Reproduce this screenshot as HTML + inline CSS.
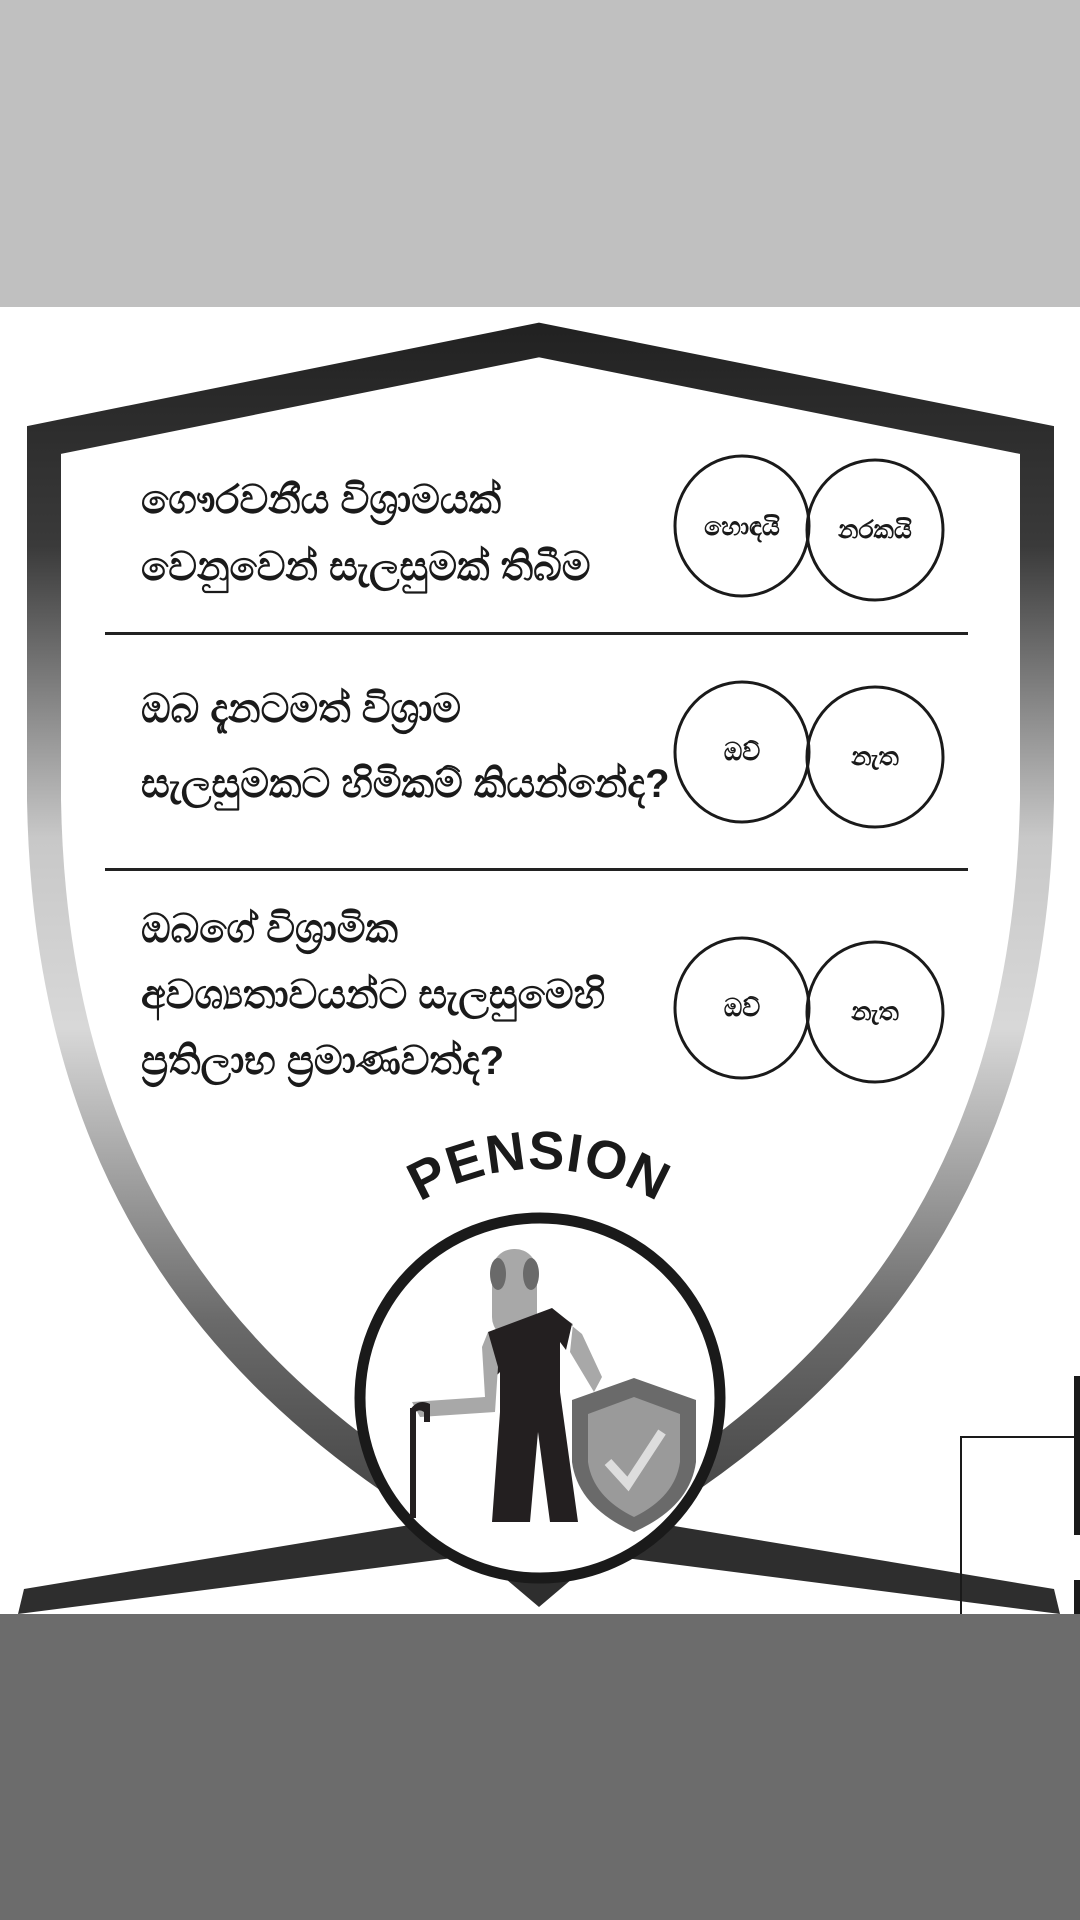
<!DOCTYPE html>
<html><head><meta charset="utf-8"><style>
html,body{margin:0;padding:0;background:#fff}
svg{display:block}
.q{font-family:"Liberation Sans","Noto Sans CJK SC",sans-serif;font-size:40px;font-weight:bold;fill:#1a1a1a}
.c{font-family:"Liberation Sans","Noto Sans CJK SC",sans-serif;font-size:25px;font-weight:bold;fill:#1a1a1a}
</style></head><body>
<svg width="1080" height="1920" viewBox="0 0 1080 1920" xmlns="http://www.w3.org/2000/svg">
<defs>
<linearGradient id="g" gradientUnits="userSpaceOnUse" x1="0" y1="330" x2="0" y2="1600">
<stop offset="0" stop-color="#222"/>
<stop offset="0.17" stop-color="#3a3a3a"/>
<stop offset="0.4" stop-color="#c8c8c8"/>
<stop offset="0.55" stop-color="#d8d8d8"/>
<stop offset="0.78" stop-color="#6a6a6a"/>
<stop offset="1" stop-color="#333"/>
</linearGradient>
<path id="arc" d="M 310,1398 A 229 229 0 0 1 768,1398"/>
</defs>
<rect x="0" y="0" width="1080" height="307" fill="#c0c0c0"/>
<polygon points="24,1589 428,1522 468,1556 18,1614" fill="#2e2e2e"/>
<polygon points="1054,1589 650,1522 610,1556 1060,1614" fill="#2e2e2e"/>
<polygon points="460,1540 539,1607 618,1540" fill="#2e2e2e"/>
<path d="M410,1490 C200,1350 50,1150 44,800 L44,440 L539,340 L1037,440 L1037,800 C1030,1150 880,1350 668,1490" fill="none" stroke="url(#g)" stroke-width="34" stroke-linejoin="miter"/>
<rect x="105" y="632" width="863" height="3" fill="#222"/>
<rect x="105" y="868" width="863" height="3" fill="#222"/>
<text class="q" x="141" y="513">ගෞරවනීය විශ්‍රාමයක්</text>
<text class="q" x="141" y="580">වෙනුවෙන් සැලසුමක් තිබීම</text>
<ellipse cx="742" cy="526" rx="67" ry="70" fill="none" stroke="#1a1a1a" stroke-width="3"/>
<ellipse cx="875" cy="530" rx="68" ry="70" fill="none" stroke="#1a1a1a" stroke-width="3"/>
<text class="c" x="742" y="535" text-anchor="middle">හොඳයි</text>
<text class="c" x="875" y="538" text-anchor="middle">නරකයි</text>
<text class="q" x="141" y="722">ඔබ දැනටමත් විශ්‍රාම</text>
<text class="q" x="141" y="797">සැලසුමකට හිමිකම් කියන්නේද?</text>
<ellipse cx="742" cy="752" rx="67" ry="70" fill="none" stroke="#1a1a1a" stroke-width="3"/>
<ellipse cx="875" cy="757" rx="68" ry="70" fill="none" stroke="#1a1a1a" stroke-width="3"/>
<text class="c" x="742" y="760" text-anchor="middle">ඔව්</text>
<text class="c" x="875" y="765" text-anchor="middle">නැත</text>
<text class="q" x="141" y="942">ඔබගේ විශ්‍රාමික</text>
<text class="q" x="141" y="1008">අවශ්‍යතාවයන්ට සැලසුමෙහි</text>
<text class="q" x="141" y="1074">ප්‍රතිලාභ ප්‍රමාණවත්ද?</text>
<ellipse cx="742" cy="1008" rx="67" ry="70" fill="none" stroke="#1a1a1a" stroke-width="3"/>
<ellipse cx="875" cy="1012" rx="68" ry="70" fill="none" stroke="#1a1a1a" stroke-width="3"/>
<text class="c" x="742" y="1016" text-anchor="middle">ඔව්</text>
<text class="c" x="875" y="1020" text-anchor="middle">නැත</text>
<text font-family="Liberation Sans, sans-serif" font-weight="bold" font-size="54" fill="#1a1a1a" letter-spacing="1"><textPath href="#arc" startOffset="50%" text-anchor="middle">PENSION</textPath></text>
<circle cx="540" cy="1398" r="180" fill="#fff" stroke="#1a1a1a" stroke-width="11"/>
<g transform="translate(0,12)">
<rect x="492" y="1237" width="45" height="90" rx="22" fill="#a8a8a8"/>
<ellipse cx="498" cy="1262" rx="8" ry="16" fill="#6a6a6a"/>
<ellipse cx="531" cy="1262" rx="8" ry="16" fill="#6a6a6a"/>
<path d="M555,1300 L573,1312 L570,1340 L594,1380 L602,1365 L582,1322 Z" fill="#a8a8a8"/>
<path d="M488,1320 L552,1296 L572,1312 L566,1338 L560,1330 L560,1380 L578,1510 L550,1510 L538,1420 L530,1510 L492,1510 L500,1400 L500,1360 L495,1365 Z" fill="#231f20"/>
<path d="M488,1320 L498,1355 L495,1400 L420,1405 L412,1390 L485,1385 L482,1335 Z" fill="#a8a8a8"/>
<rect x="410" y="1396" width="6" height="110" fill="#231f20"/>
<path d="M410,1398 Q418,1386 430,1392 L430,1410 L424,1410 L424,1400 Q418,1396 414,1402 Z" fill="#231f20"/>
<path d="M634,1366 L696,1388 L696,1450 Q690,1495 634,1520 Q578,1495 572,1450 L572,1388 Z" fill="#6a6a6a"/>
<path d="M634,1385 L680,1402 L680,1450 Q675,1485 634,1505 Q593,1485 588,1450 L588,1402 Z" fill="#9a9a9a"/>
<path d="M608,1450 L628,1472 L662,1420" fill="none" stroke="#ddd" stroke-width="9"/>
</g>
<rect x="1074" y="1376" width="6" height="159" fill="#1a1a1a"/>
<rect x="960" y="1436" width="120" height="2" fill="#1a1a1a"/>
<rect x="960" y="1436" width="2" height="178" fill="#1a1a1a"/>
<rect x="1074" y="1580" width="6" height="34" fill="#1a1a1a"/>
<rect x="0" y="1614" width="1080" height="306" fill="#6c6c6c"/>
</svg>
</body></html>
